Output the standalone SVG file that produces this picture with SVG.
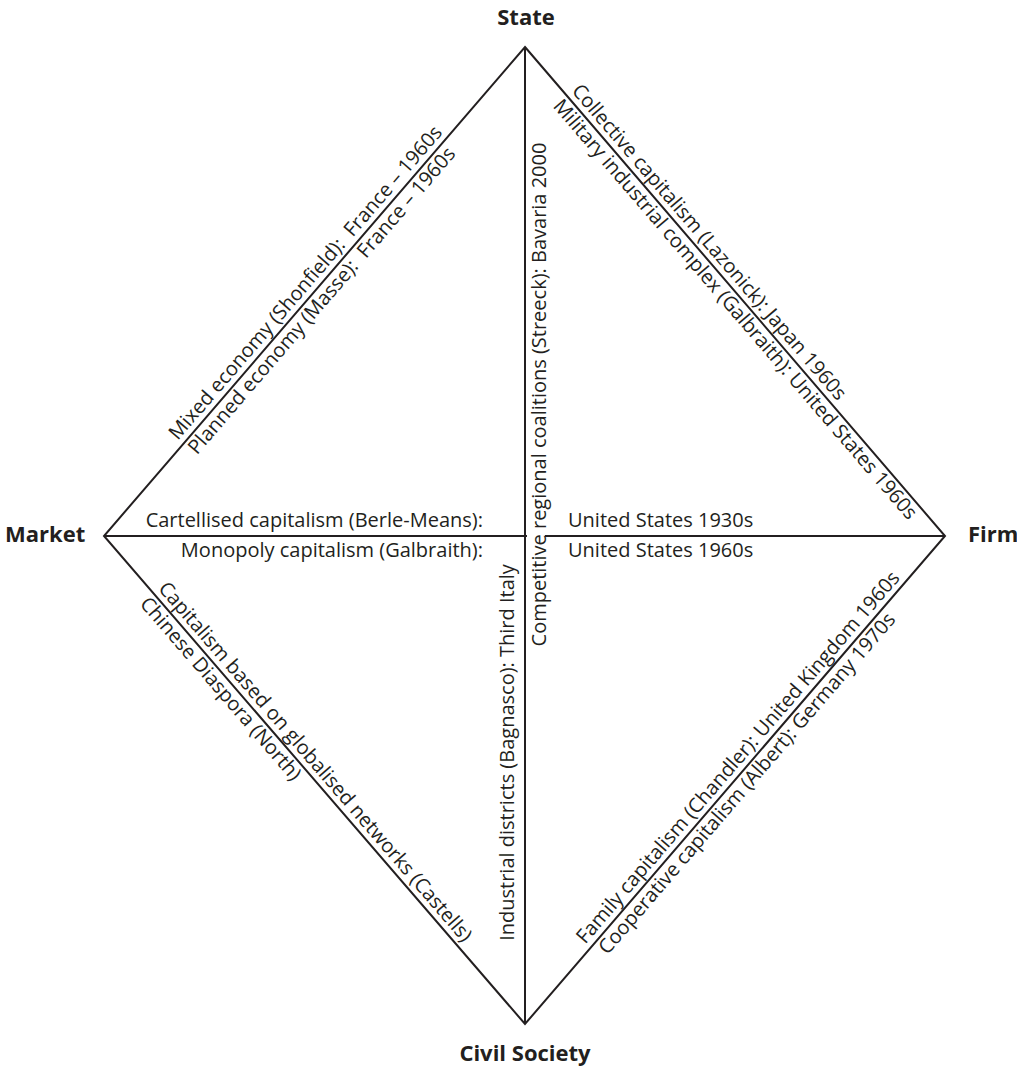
<svg xmlns="http://www.w3.org/2000/svg" width="1017" height="1067" viewBox="0 0 1017 1067">
  <style>
    .edge { stroke: #231f20; stroke-width: 2; fill: none; stroke-linejoin: miter; stroke-miterlimit: 20; }
    .lbl { font-family: "Open Sans", "Noto Sans", sans-serif; font-size: 20px; fill: #231f20; white-space: pre; }
    .node { font-family: "Open Sans", "Noto Sans", sans-serif; font-size: 22px; font-weight: bold; fill: #231f20; }
    .mid { text-anchor: middle; }
    .end { text-anchor: end; }
  </style>
  <rect width="1017" height="1067" fill="#ffffff"/>

  <g id="connectors">
    <polygon class="edge" points="525,47 945,536 525,1024 104,536"/>
    <line class="edge" x1="525" y1="47" x2="525" y2="1024"/>
    <line class="edge" x1="104" y1="536" x2="527" y2="536"/>
    <line class="edge" x1="545" y1="536" x2="945" y2="536"/>
  </g>

  <g id="node-state"><text class="node mid" x="526" y="25">State</text></g>
  <g id="node-market"><text class="node" x="5" y="542">Market</text></g>
  <g id="node-firm"><text class="node" x="968" y="542">Firm</text></g>
  <g id="node-civil-society"><text class="node mid" x="525" y="1061">Civil Society</text></g>

  <g id="edge-labels">
    <g transform="translate(315,290.9) rotate(-49.27)">
      <text class="lbl mid" x="0" y="-6">Mixed economy (Shonfield):  France – 1960s</text>
      <text class="lbl mid" x="-3" y="18">Planned economy (Masse):  France – 1960s</text>
    </g>
    <g transform="translate(699.6,250.3) rotate(49.34)">
      <text class="lbl mid" x="0" y="-6">Collective capitalism (Lazonick): Japan 1960s</text>
    </g>
    <g transform="translate(743.9,301.9) rotate(49.34)">
      <text class="lbl mid" x="0" y="18">Military industrial complex (Galbraith): United States 1960s</text>
    </g>
    <g transform="translate(305.8,770) rotate(49.22)">
      <text class="lbl mid" x="0" y="-6">Capitalism based on globalised networks (Castells)</text>
    </g>
    <g transform="translate(229.4,681.4) rotate(49.22)">
      <text class="lbl mid" x="0" y="18">Chinese Diaspora (North)</text>
    </g>
    <g transform="translate(747.5,765.5) rotate(-49.27)">
      <text class="lbl mid" x="0" y="-6">Family capitalism (Chandler): United Kingdom 1960s</text>
    </g>
    <g transform="translate(738.3,776.1) rotate(-49.27)">
      <text class="lbl mid" x="0" y="18">Cooperative capitalism (Albert): Germany 1970s</text>
    </g>
    <text class="lbl end" x="483" y="527">Cartellised capitalism (Berle-Means):</text>
    <text class="lbl end" x="483" y="557">Monopoly capitalism (Galbraith):</text>
    <text class="lbl" x="568" y="527">United States 1930s</text>
    <text class="lbl" x="568" y="557">United States 1960s</text>
    <g transform="translate(546,394.5) rotate(-90)">
      <text class="lbl mid" x="0" y="0">Competitive regional coalitions (Streeck): Bavaria 2000</text>
    </g>
    <g transform="translate(514,752.5) rotate(-90)">
      <text class="lbl mid" x="0" y="0">Industrial districts (Bagnasco): Third Italy</text>
    </g>
  </g>
</svg>
